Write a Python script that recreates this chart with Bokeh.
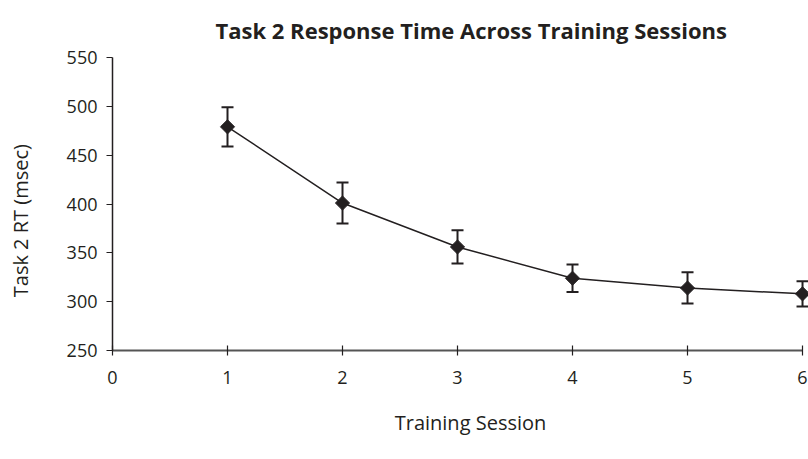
import math
from bokeh.plotting import figure
from bokeh.models import ColumnDataSource, Range1d, Whisker, TeeHead, FixedTicker
from bokeh.embed import file_html
from bokeh.resources import INLINE

# Mean Task 2 response time per training session, with error half-widths
sessions = [1, 2, 3, 4, 5, 6]
rt_msec = [479, 401, 356, 324, 314, 308]
rt_err = [20, 21, 17, 14, 16, 13]
x_ticks = [0, 1, 2, 3, 4, 5, 6]
y_ticks = [250, 300, 350, 400, 450, 500, 550]

INK = "#231f20"
FONT = "Open Sans"

src = ColumnDataSource(dict(
    x=sessions,
    y=rt_msec,
    upper=[v + e for v, e in zip(rt_msec, rt_err)],
    lower=[v - e for v, e in zip(rt_msec, rt_err)],
))

p = figure(
    width=808, height=459,
    x_range=Range1d(0, 6.052), y_range=Range1d(250, 550),
    output_backend="svg", toolbar_location=None,
    min_border_left=112, min_border_right=0,
    min_border_top=57, min_border_bottom=109,
    title="Task 2 Response Time Across Training Sessions",
)
p.outline_line_color = None
p.background_fill_color = "white"
p.border_fill_color = "white"
p.grid.visible = False

p.title.align = "left"
p.title.offset = 103
p.title.text_font = FONT
p.title.text_font_style = "bold"
p.title.text_font_size = "22px"
p.title.text_color = INK
p.title.standoff = 25

# error bars
whisk = Whisker(
    source=src, base="x", upper="upper", lower="lower",
    line_color=INK, line_width=2,
    upper_head=TeeHead(size=12, line_color=INK, line_width=2),
    lower_head=TeeHead(size=12, line_color=INK, line_width=2),
)
p.add_layout(whisk)

p.line("x", "y", source=src, line_color=INK, line_width=1.5)
p.scatter("x", "y", source=src, marker="square", angle=math.pi / 4,
          size=10, fill_color=INK, line_color=INK)

# axes
xa = p.xaxis[0]
xa.bounds = (0, 6)
xa.ticker = FixedTicker(ticks=x_ticks)
xa.minor_tick_line_color = None
xa.major_tick_in = 5
xa.major_tick_out = 5
xa.axis_line_width = 2
xa.axis_line_color = "#555555"
xa.major_tick_line_color = INK
xa.major_tick_line_width = 1.2
xa.major_label_standoff = 15
# leading em space nudges the centred title slightly to the right
xa.axis_label = "\u2003Training Session"
xa.axis_label_standoff = 22

ya = p.yaxis[0]
ya.ticker = FixedTicker(ticks=y_ticks)
ya.minor_tick_line_color = None
ya.major_tick_in = 0
ya.major_tick_out = 6
ya.axis_line_width = 1.5
ya.axis_line_color = INK
ya.major_tick_line_color = INK
ya.major_tick_line_width = 1.2
ya.major_label_standoff = 9
# trailing spaces lower the rotated title a little below the frame centre
ya.axis_label = "Task 2 RT (msec)\u2003\u2002\u2009"
ya.axis_label_standoff = 30

for ax in (xa, ya):
    ax.major_label_text_font = FONT
    ax.major_label_text_font_size = "18px"
    ax.major_label_text_color = INK
    ax.axis_label_text_font = FONT
    ax.axis_label_text_font_size = "20px"
    ax.axis_label_text_font_style = "normal"
    ax.axis_label_text_color = INK

open("out.html", "w").write(file_html(p, INLINE))
